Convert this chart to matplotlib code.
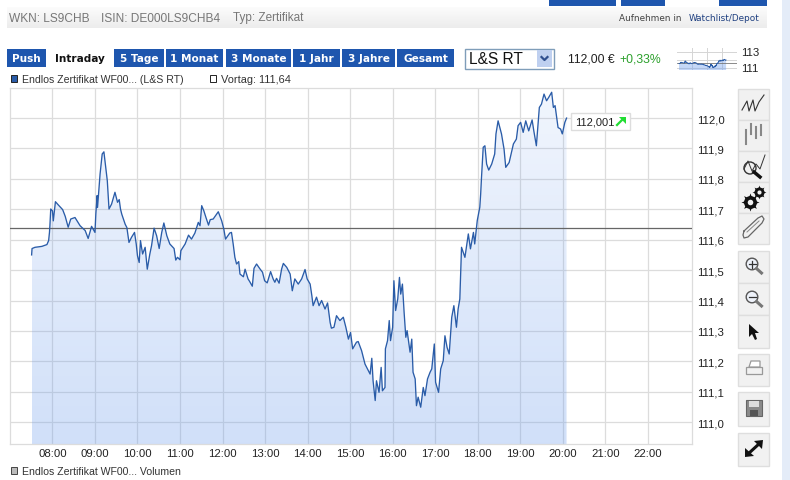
"""Intraday price chart of a certificate, with the surrounding page controls."""
import numpy as np
import matplotlib
matplotlib.use('Agg')
import matplotlib.pyplot as plt
from matplotlib.patches import Rectangle, Circle, Polygon

hours = [7.51, 7.52, 7.59, 7.75, 7.87, 7.91, 7.93, 7.94, 7.96, 8.00, 8.02, 8.07, 8.14, 8.24, 8.30, 8.37, 8.43, 8.53, 8.65, 8.77,
         8.84, 8.92, 9.00, 9.02, 9.05, 9.06, 9.12, 9.17, 9.21, 9.24, 9.29, 9.33, 9.39, 9.47, 9.53, 9.57, 9.60, 9.63, 9.71, 9.75,
         9.80, 9.86, 9.93, 9.97, 10.00, 10.04, 10.07, 10.12, 10.18, 10.23, 10.29, 10.33, 10.39, 10.45, 10.51, 10.57, 10.62, 10.69, 10.76, 10.86,
         10.90, 10.94, 11.00, 11.02, 11.12, 11.20, 11.27, 11.35, 11.43, 11.47, 11.51, 11.56, 11.61, 11.67, 11.71, 11.78, 11.90, 11.98, 12.03, 12.07,
         12.17, 12.21, 12.25, 12.29, 12.33, 12.38, 12.41, 12.49, 12.53, 12.60, 12.64, 12.70, 12.74, 12.80, 12.88, 12.94, 12.99, 13.05, 13.13, 13.19,
         13.23, 13.27, 13.33, 13.39, 13.43, 13.51, 13.59, 13.64, 13.70, 13.78, 13.86, 13.94, 13.99, 14.06, 14.10, 14.13, 14.21, 14.27, 14.33, 14.41,
         14.47, 14.53, 14.56, 14.62, 14.68, 14.76, 14.84, 14.90, 14.96, 15.01, 15.06, 15.15, 15.19, 15.27, 15.35, 15.43, 15.47, 15.51, 15.54, 15.59,
         15.62, 15.68, 15.73, 15.76, 15.82, 15.83, 15.88, 15.92, 15.95, 16.00, 16.03, 16.07, 16.12, 16.16, 16.19, 16.23, 16.27, 16.31, 16.34, 16.41,
         16.45, 16.48, 16.53, 16.56, 16.60, 16.66, 16.72, 16.76, 16.82, 16.88, 16.92, 16.98, 17.01, 17.08, 17.13, 17.19, 17.23, 17.28, 17.33, 17.39,
         17.44, 17.50, 17.54, 17.58, 17.62, 17.70, 17.78, 17.83, 17.90, 17.93, 17.99, 18.05, 18.07, 18.09, 18.13, 18.17, 18.21, 18.26, 18.33, 18.40,
         18.43, 18.48, 18.56, 18.62, 18.66, 18.74, 18.84, 18.91, 18.95, 19.01, 19.07, 19.13, 19.20, 19.28, 19.32, 19.38, 19.45, 19.50, 19.56, 19.62,
         19.67, 19.74, 19.78, 19.82, 19.89, 19.95, 19.99, 20.05, 20.09]
prices = [111.550, 111.571, 111.575, 111.578, 111.584, 111.597, 111.624, 111.646, 111.701, 111.695, 111.662, 111.725, 111.714, 111.699, 111.677, 111.641, 111.668, 111.673, 111.646, 111.630,
          111.604, 111.644, 111.624, 111.684, 111.745, 111.706, 111.816, 111.882, 111.889, 111.854, 111.794, 111.701, 111.717, 111.756, 111.723, 111.732, 111.701, 111.684, 111.651, 111.640,
          111.591, 111.608, 111.624, 111.586, 111.547, 111.525, 111.597, 111.553, 111.575, 111.503, 111.553, 111.580, 111.638, 111.613, 111.571, 111.624, 111.655, 111.613, 111.586, 111.571,
          111.533, 111.542, 111.534, 111.564, 111.586, 111.615, 111.602, 111.622, 111.657, 111.646, 111.712, 111.695, 111.673, 111.648, 111.666, 111.668, 111.692, 111.662, 111.635, 111.602,
          111.622, 111.624, 111.586, 111.542, 111.520, 111.528, 111.487, 111.478, 111.503, 111.471, 111.462, 111.447, 111.506, 111.520, 111.504, 111.493, 111.465, 111.458, 111.495, 111.471,
          111.460, 111.473, 111.457, 111.504, 111.522, 111.509, 111.487, 111.432, 111.471, 111.454, 111.471, 111.502, 111.471, 111.454, 111.416, 111.383, 111.411, 111.383, 111.400, 111.372,
          111.392, 111.328, 111.309, 111.312, 111.350, 111.334, 111.345, 111.312, 111.273, 111.295, 111.241, 111.263, 111.265, 111.235, 111.191, 111.169, 111.158, 111.210, 111.136, 111.071,
          111.136, 111.098, 111.180, 111.103, 111.114, 111.241, 111.268, 111.334, 111.268, 111.312, 111.465, 111.367, 111.405, 111.476, 111.421, 111.454, 111.361, 111.279, 111.301, 111.230,
          111.273, 111.164, 111.142, 111.054, 111.082, 111.049, 111.114, 111.087, 111.142, 111.164, 111.175, 111.257, 111.131, 111.098, 111.175, 111.202, 111.284, 111.246, 111.224, 111.345,
          111.383, 111.312, 111.372, 111.405, 111.575, 111.542, 111.619, 111.570, 111.624, 111.586, 111.663, 111.707, 111.750, 111.805, 111.904, 111.909, 111.849, 111.829, 111.849, 111.882,
          111.948, 111.991, 111.948, 111.898, 111.838, 111.854, 111.915, 111.931, 111.975, 111.986, 111.953, 111.991, 111.958, 111.994, 111.958, 111.909, 112.035, 112.046, 112.079, 112.057,
          112.068, 112.085, 112.035, 112.041, 111.969, 111.964, 111.948, 111.986, 112.000]
prev_close = 111.64
hour_ticks = [8, 9, 10, 11, 12, 13, 14, 15, 16, 17, 18, 19, 20, 21, 22]
hour_labels = ['08:00', '09:00', '10:00', '11:00', '12:00', '13:00', '14:00', '15:00', '16:00', '17:00', '18:00', '19:00', '20:00', '21:00', '22:00']
price_ticks = [111.0, 111.1, 111.2, 111.3, 111.4, 111.5, 111.6, 111.7, 111.8, 111.9, 112.0]
price_labels = ['111,0', '111,1', '111,2', '111,3', '111,4', '111,5', '111,6', '111,7', '111,8', '111,9', '112,0']
tabs = ['Push', 'Intraday', '5 Tage', '1 Monat', '3 Monate', '1 Jahr', '3 Jahre', 'Gesamt']

W, H = 790, 481
BLUE = '#1E56AE'
GRID = '#DCDCDC'
SANS = 'Liberation Sans'


def px_axes(fig, x0, y0, x1, y1):
    """Axes placed by page pixels (y counted from the top)."""
    return fig.add_axes([x0 / W, 1 - y1 / H, (x1 - x0) / W, (y1 - y0) / H])


def gradient_area(ax, x, y, bottom, top, a_top, a_bottom):
    """Area under the line, blue getting stronger towards the bottom."""
    poly = ax.fill_between(x, y, bottom, facecolor='none', edgecolor='none')
    grad = np.zeros((256, 1, 4))
    grad[:, :, 0], grad[:, :, 1], grad[:, :, 2] = 0.45, 0.63, 0.93
    grad[:, 0, 3] = np.linspace(a_top, a_bottom, 256)
    im = ax.imshow(grad, extent=[x[0], x[-1], bottom, top], origin='upper', aspect='auto', zorder=2)
    im.set_clip_path(poly.get_paths()[0], transform=ax.transData)


def gear(ax, x, y, size, hole):
    """Small cog: a spiky marker with a light hole."""
    ax.plot([x], [y], marker=(8, 1, 0), ms=size, color='#111111', mew=0)
    ax.plot([x], [y], marker='o', ms=size * 0.72, color='#111111', mew=0)
    ax.plot([x], [y], marker='o', ms=hole, color='#F1F1F1', mew=0)


fig = plt.figure(figsize=(W / 100, H / 100), dpi=100, facecolor='white')

# main chart
ax = px_axes(fig, 9.5, 89, 692, 445)
ax.set_xlim(6.99, 23.04)
ax.set_ylim(110.928, 112.099)
gradient_area(ax, hours, prices, 110.928, 112.099, 0.10, 0.33)
ax.set_xlim(6.99, 23.04)
ax.set_ylim(110.928, 112.099)
ax.set_xticks(hour_ticks, hour_labels, fontsize=8.2, family=SANS, color='#222222')
ax.set_yticks(price_ticks, price_labels, fontsize=8.2, family=SANS, color='#222222')
ax.yaxis.tick_right()
ax.tick_params(length=0, axis='x', pad=3)
ax.tick_params(length=0, axis='y', pad=3.5)
ax.grid(True, color=GRID, lw=0.9, zorder=1)
ax.set_axisbelow(True)
for sp in ax.spines.values():
    sp.set_color(GRID)
    sp.set_linewidth(0.9)
ax.axhline(prev_close, color='#666666', lw=0.9, zorder=3)
ax.plot(hours, prices, color='#2A5CA8', lw=0.95, zorder=4)

# small overview chart next to the price
mini = px_axes(fig, 677, 49, 737, 71)
mini.set_xlim(7, 23)
mini.set_ylim(110.75, 113.5)
gradient_area(mini, hours, prices, 110.75, 113.5, 0.25, 0.45)
mini.set_xlim(7, 23)
mini.set_ylim(110.75, 113.5)
mini.set_xticks([11, 15, 19], [])
mini.set_yticks([111, 112, 113], [])
mini.tick_params(length=0)
mini.grid(True, color='#D5D5D5', lw=0.7, zorder=1)
mini.axhline(prev_close, color='#777777', lw=0.6, zorder=3)
mini.plot(hours, prices, color='#2A5CA8', lw=0.6, zorder=4)
for sp in mini.spines.values():
    sp.set_visible(False)

# page furniture in pixel coordinates
ui = fig.add_axes([0, 0, 1, 1], zorder=10)
ui.set_xlim(0, W)
ui.set_ylim(H, 0)
ui.axis('off')
ui.patch.set_alpha(0)

ui.imshow(np.linspace(0.985, 0.925, 32).reshape(32, 1), extent=[7, 767, 29, 8], cmap='gray', vmin=0, vmax=1, aspect='auto')
ui.set_xlim(0, W)
ui.set_ylim(H, 0)
ui.add_patch(Rectangle((782, 0), 8, H, fc='#E4ECF8', ec='none'))
for x0, x1 in [(549, 616), (621, 665), (719, 767)]:
    ui.add_patch(Rectangle((x0, 0), x1 - x0, 6.5, fc=BLUE, ec='none'))

ui.text(9, 18.5, 'WKN: LS9CHB', fontsize=8.6, family=SANS, color='#777777', va='center')
ui.text(101, 18.5, 'ISIN: DE000LS9CHB4', fontsize=8.6, family=SANS, color='#777777', va='center')
ui.text(233, 18.5, 'Typ: Zertifikat', fontsize=8.5, family=SANS, color='#777777', va='center')
ui.text(619, 18.5, 'Aufnehmen in', fontsize=6.4, color='#444444', va='center')
ui.text(689, 18.5, 'Watchlist/Depot', fontsize=6.4, color='#1E3F80', va='center')

tab_edges = [(7, 46), (47, 112), (114, 164), (166, 223), (226, 291), (293, 340), (342, 395), (397, 454)]
for name, (x0, x1) in zip(tabs, tab_edges):
    active = name == 'Intraday'
    if not active:
        ui.add_patch(Rectangle((x0, 50), x1 - x0, 18, fc=BLUE, ec='none'))
    ui.text((x0 + x1) / 2, 59.3, name, fontsize=7.6, fontweight='bold', ha='center', va='center',
            color='#111111' if active else 'white')

ui.add_patch(Rectangle((464.5, 49.5), 89, 20, fc='white', ec='#7F9DB9', lw=1))
ui.add_patch(Rectangle((537, 51), 15, 17, fc='#BFD0F0', ec='none'))
ui.plot([541.5, 544.5, 547.5], [58, 61, 58], color='#2F4F8F', lw=1.6)
ui.text(469, 59.8, 'L&S RT', fontsize=11.2, family=SANS, color='#111111', va='center')
ui.text(568, 59, '112,00 €', fontsize=8.8, family=SANS, color='#222222', va='center')
ui.text(619.5, 59, '+0,33%', fontsize=8.8, family=SANS, color='#2CA02C', va='center')
ui.text(741, 53, '113', fontsize=8.2, family=SANS, color='#222222', va='center')
ui.text(741, 69, '111', fontsize=8.2, family=SANS, color='#222222', va='center')

ui.add_patch(Rectangle((10.5, 76), 6.5, 7, fc='#2A5CA8', ec='#222222', lw=0.7))
ui.text(22, 80, 'Endlos Zertifikat WF00... (L&S RT)', fontsize=7.6, family=SANS, color='#333333', va='center')
ui.add_patch(Rectangle((209.5, 76), 6.5, 7, fc='white', ec='#222222', lw=0.7))
ui.text(221, 80, 'Vortag: 111,64', fontsize=7.9, family=SANS, color='#333333', va='center')
ui.add_patch(Rectangle((10.5, 468), 6.5, 7, fc='#BBBBBB', ec='#444444', lw=0.7))
ui.text(22, 472, 'Endlos Zertifikat WF00... Volumen', fontsize=7.6, family=SANS, color='#333333', va='center')

# last price label
ui.add_patch(Rectangle((570.5, 113.5), 59, 17.5, fc='white', ec='#DDDDDD', lw=1))
ui.text(575, 122.5, '112,001', fontsize=8, family=SANS, color='#222222', va='center')
ui.plot([617, 623], [126, 120], color='#22DD33', lw=1.6)
ui.add_patch(Polygon([(619, 118), (626, 118), (626, 125)], fc='#22DD33', ec='none'))

# toolbar
for y0, y1 in [(89, 120), (120, 151), (151, 182), (182, 213), (213, 244), (251, 283), (283, 315), (315, 348), (354, 386), (392, 426), (433, 466)]:
    ui.add_patch(Rectangle((737.5, y0 + 0.5), 31, y1 - y0, fc='#F1F1F1', ec='#DEDEDE', lw=1))

DARK = '#333333'
ui.plot([742, 747, 749, 753, 755, 759, 764], [111, 102, 112, 101, 112, 103, 96], color=DARK, lw=0.8)
for x, y0, y1 in [(746, 131, 145), (751, 125, 135), (756, 128, 139), (761, 126, 136)]:
    ui.plot([x, x], [y0, y1], color='#888888', lw=1.5)
ui.plot([744, 748, 752, 756, 760, 765], [170, 162, 172, 165, 170, 156], color=DARK, lw=0.7)
ui.add_patch(Circle((750, 169), 6, fc='none', ec=DARK, lw=1))
ui.plot([754, 760], [173, 178], color='#111111', lw=2.5)
gear(ui, 749.5, 203, 13, 4)
gear(ui, 759, 192.5, 10, 3)
# paper clip
ui.plot([744, 758, 762, 764, 762, 748, 744, 743, 744], [232, 219, 217, 220, 224, 238, 239, 236, 232], color='#666666', lw=0.9)
ui.plot([747, 759], [233, 222], color='#888888', lw=0.7)
for cy, sign in [(265, True), (298, False)]:
    ui.add_patch(Circle((752, cy), 5.8, fc='#EEF2FA', ec='#555555', lw=1))
    ui.plot([748.5, 755.5], [cy, cy], color='#333333', lw=0.9)
    if sign:
        ui.plot([752, 752], [cy - 3.5, cy + 3.5], color='#333333', lw=0.9)
    ui.plot([756.5, 761.5], [cy + 4.5, cy + 9], color='#777777', lw=2.2)
ui.add_patch(Polygon([(749, 325), (749, 338), (752, 335), (755, 341), (757, 340), (755, 334), (759, 334)], fc='#111111', ec='none'))
ui.add_patch(Rectangle((746, 368), 16, 7, fc='#F1F1F1', ec='#999999', lw=0.9))
ui.add_patch(Polygon([(749, 368), (751, 362), (760, 362), (760, 368)], fc='white', ec='#999999', lw=0.9))
ui.add_patch(Rectangle((746, 401), 16, 16, fc='#8A8A8A', ec='#666666', lw=0.8))
ui.add_patch(Rectangle((749, 402), 10, 6, fc='#DDDDDD', ec='none'))
ui.add_patch(Rectangle((750, 411), 8, 6, fc='#555555', ec='none'))
ui.plot([748, 760], [455, 444], color='#111111', lw=2.2)
ui.add_patch(Polygon([(754, 442), (763, 441), (762, 450)], fc='#111111', ec='none'))
ui.add_patch(Polygon([(745, 449), (745, 458), (754, 457)], fc='#111111', ec='none'))

fig.savefig('out.png', dpi=100)
